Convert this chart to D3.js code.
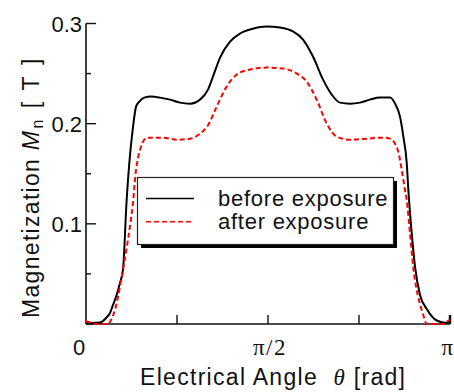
<!DOCTYPE html>
<html>
<head>
<meta charset="utf-8">
<script src="https://cdn.jsdelivr.net/npm/d3@7"></script>
<style>
  body { margin: 0; background: #fff; }
  svg { display: block; }
  text { font-family: "Liberation Sans", Arial, sans-serif; fill: #111; }
</style>
</head>
<body>
<div id="chart"></div>
<script>
// electrical angle [rad] and magnetization [T]
const thetaBefore = [0, 0.052, 0.121, 0.181, 0.207, 0.233, 0.250, 0.293, 0.319, 0.351, 0.374, 0.403, 0.432,
  0.460, 0.503, 0.561, 0.639, 0.725, 0.811, 0.898, 0.984, 1.053, 1.096, 1.157, 1.243, 1.329, 1.415, 1.560,
  1.674, 1.787, 1.873, 1.959, 2.046, 2.121, 2.192, 2.279, 2.365, 2.451, 2.538, 2.624, 2.667, 2.710, 2.739,
  2.768, 2.782, 2.811, 2.840, 2.883, 2.941, 3.027, 3.113, 3.142];
const before = [0.002, 0.001, 0.0015, 0.007, 0.011, 0.019, 0.024, 0.041, 0.054, 0.124, 0.161, 0.194, 0.217,
  0.222, 0.226, 0.227, 0.226, 0.224, 0.221, 0.220, 0.224, 0.234, 0.247, 0.266, 0.282, 0.290, 0.294, 0.297,
  0.296, 0.292, 0.284, 0.267, 0.244, 0.229, 0.221, 0.220, 0.221, 0.224, 0.226, 0.226, 0.220, 0.207, 0.187,
  0.161, 0.134, 0.091, 0.057, 0.029, 0.015, 0.0035, 0.001, 0.0035];

const thetaAfter = [0, 0.026, 0.060, 0.121, 0.190, 0.224, 0.250, 0.276, 0.302, 0.328, 0.354, 0.380, 0.408,
  0.425, 0.446, 0.475, 0.503, 0.533, 0.576, 0.667, 0.783, 0.898, 0.984, 1.056, 1.128, 1.214, 1.301, 1.415,
  1.560, 1.703, 1.819, 1.905, 1.991, 2.078, 2.164, 2.279, 2.423, 2.566, 2.624, 2.667, 2.695, 2.725, 2.753,
  2.768, 2.796, 2.825, 2.854, 2.878, 2.911, 2.941, 3.012, 3.084, 3.127, 3.142];
const after = [0.0025, 0.002, 0, 0, 0, 0.006, 0.014, 0.027, 0.043, 0.060, 0.078, 0.098, 0.124,
  0.147, 0.164, 0.177, 0.184, 0.186, 0.186, 0.186, 0.184, 0.185, 0.190, 0.199, 0.217, 0.237, 0.249, 0.254,
  0.256, 0.255, 0.250, 0.242, 0.224, 0.200, 0.187, 0.184, 0.185, 0.186, 0.185, 0.180, 0.172, 0.154, 0.134,
  0.124, 0.091, 0.056, 0.034, 0.022, 0.009, 0, 0, 0, 0.0033, 0.004];

const yMajor = [0, 0.1, 0.2, 0.3];
const yMajorLabels = ["", "0.1", "0.2", "0.3"];
const yMinor = [0.05, 0.15, 0.25];
const xTicks = [Math.PI / 4, Math.PI / 2, 3 * Math.PI / 4, Math.PI];
const xTickLabels = [
  { v: 0, t: "0", serif: false, dx: -7 },
  { v: Math.PI / 2, t: "\u03c0/2", serif: true, dx: 2 },
  { v: Math.PI, t: "\u03c0", serif: true, dx: -2 }
];
const legendItems = ["before exposure", "after exposure"];

const width = 454, height = 392;
const plotLeft = 86, plotRight = 450, plotTop = 23.5, plotBottom = 324;

const svg = d3.select("#chart").append("svg")
  .attr("width", width)
  .attr("height", height);

const x = d3.scaleLinear().domain([0, Math.PI]).range([plotLeft, plotRight]);
const y = d3.scaleLinear().domain([0, 0.3]).range([plotBottom, plotTop]);

// axes lines
svg.append("line")
  .attr("x1", x(0)).attr("x2", x(Math.PI))
  .attr("y1", y(0)).attr("y2", y(0))
  .attr("stroke", "#111").attr("stroke-width", 1.6);
svg.append("line")
  .attr("x1", x(0)).attr("x2", x(0))
  .attr("y1", y(0)).attr("y2", y(0.3))
  .attr("stroke", "#111").attr("stroke-width", 1.6);

// y ticks (inward)
svg.selectAll(".ymaj").data(yMajor).enter().append("line")
  .attr("x1", x(0)).attr("x2", x(0) + 10)
  .attr("y1", d => y(d)).attr("y2", d => y(d))
  .attr("stroke", "#111").attr("stroke-width", 1.4);
svg.selectAll(".ymin").data(yMinor).enter().append("line")
  .attr("x1", x(0)).attr("x2", x(0) + 5)
  .attr("y1", d => y(d)).attr("y2", d => y(d))
  .attr("stroke", "#111").attr("stroke-width", 1.4);
svg.selectAll(".ylab").data(yMajor).enter().append("text")
  .attr("x", x(0) - 4)
  .attr("y", d => y(d) + 8)
  .attr("text-anchor", "end")
  .attr("font-size", 22)
  .text((d, i) => yMajorLabels[i]);

// x ticks (inward)
svg.selectAll(".xt").data(xTicks).enter().append("line")
  .attr("x1", d => x(d)).attr("x2", d => x(d))
  .attr("y1", y(0)).attr("y2", y(0) - 9)
  .attr("stroke", "#111").attr("stroke-width", d => d === Math.PI ? 2.5 : 1.4);
svg.selectAll(".xl").data(xTickLabels).enter().append("text")
  .attr("x", d => x(d.v) + d.dx)
  .attr("y", 355)
  .attr("text-anchor", "middle")
  .attr("font-size", d => d.serif ? 23 : 22)
  .style("font-family", d => d.serif ? "'Liberation Serif', 'Times New Roman', serif" : null)
  .style("letter-spacing", d => d.serif ? "1.5px" : null)
  .text(d => d.t);

// axis titles
const xt = svg.append("text")
  .attr("x", 140).attr("y", 385)
  .attr("font-size", 23)
  .style("letter-spacing", "1.3px");
xt.append("tspan").text("Electrical Angle\u00a0\u00a0");
xt.append("tspan").attr("font-style", "italic")
  .style("font-family", "'Liberation Serif', serif").text("\u03b8");
xt.append("tspan").text("\u00a0[rad]");

const yt = svg.append("text")
  .attr("transform", "translate(39," + 187 + ") rotate(-90)")
  .attr("text-anchor", "middle")
  .attr("font-size", 23);
yt.append("tspan").style("letter-spacing", "1.3px").text("Magnetization ");
yt.append("tspan").attr("font-style", "italic").style("letter-spacing", "2.5px").text("M");
yt.append("tspan").attr("font-size", 16).attr("dy", 4).style("letter-spacing", "2.5px").text("n");
yt.append("tspan").attr("dy", -4).style("letter-spacing", "2.5px").text("\u00a0[\u00a0T\u00a0]");

// curves
const line = d3.line()
  .x(d => x(d[0]))
  .y(d => y(d[1]))
  .curve(d3.curveMonotoneX);

svg.append("path")
  .datum(thetaBefore.map((t, i) => [t, before[i]]))
  .attr("d", line)
  .attr("fill", "none")
  .attr("stroke", "#000")
  .attr("stroke-width", 2);

svg.append("path")
  .datum(thetaAfter.map((t, i) => [t, after[i]]))
  .attr("d", line)
  .attr("fill", "none")
  .attr("stroke", "#f00")
  .attr("stroke-width", 2)
  .attr("stroke-dasharray", "5,3");

// legend box with drop shadow
const lg = svg.append("g");
lg.append("rect")
  .attr("x", 141).attr("y", 181)
  .attr("width", 256).attr("height", 67)
  .attr("fill", "#000");
lg.append("rect")
  .attr("x", 137.5).attr("y", 177.5)
  .attr("width", 256).attr("height", 67)
  .attr("fill", "#fff")
  .attr("stroke", "#222").attr("stroke-width", 1.2);

lg.selectAll(".ll").data(legendItems).enter().append("line")
  .attr("x1", 146).attr("x2", 194)
  .attr("y1", (d, i) => 198.5 + i * 23.3)
  .attr("y2", (d, i) => 198.5 + i * 23.3)
  .attr("stroke", (d, i) => i === 0 ? "#000" : "#f00")
  .attr("stroke-width", 1.6)
  .attr("stroke-dasharray", (d, i) => i === 0 ? null : "5,3");
lg.selectAll(".lt").data(legendItems).enter().append("text")
  .attr("x", 218)
  .attr("y", (d, i) => 206 + i * 23.3)
  .attr("font-size", 22)
  .style("letter-spacing", "0.75px")
  .text(d => d);
</script>
</body>
</html>
